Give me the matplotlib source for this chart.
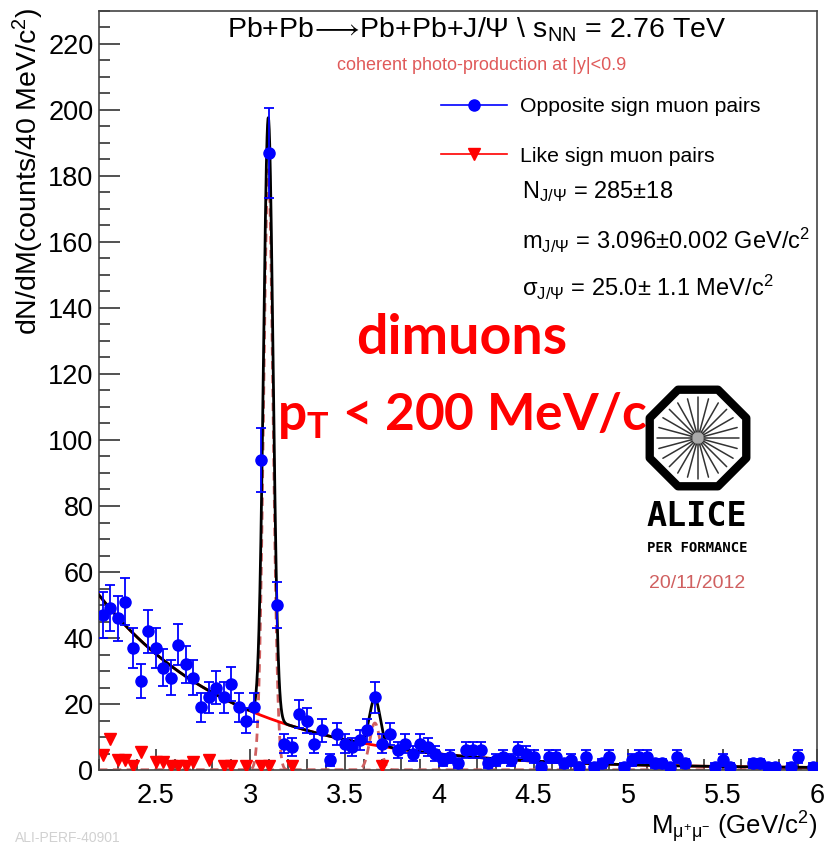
import matplotlib as mpl

mpl.use("Agg")

import matplotlib.pyplot as plt
import numpy as np
from matplotlib.lines import Line2D
from matplotlib.patches import Circle, RegularPolygon

plt.rcParams["font.family"] = ["Liberation Sans", "DejaVu Sans"]
plt.rcParams["mathtext.fontset"] = "custom"
plt.rcParams["mathtext.rm"] = "Liberation Sans"
plt.rcParams["mathtext.it"] = "Liberation Sans:italic"
plt.rcParams["mathtext.bf"] = "Lato:bold"
plt.rcParams["mathtext.fallback"] = "stixsans"

# histogram: 40 MeV bins from 2.2 to 6.0 GeV/c^2
M_LO, M_HI, BIN_W = 2.2, 6.0, 0.04

# opposite-sign counts per bin
OS_COUNTS = [
    47, 49, 46, 51, 37, 27, 42, 37, 31, 28,
    38, 32, 28, 19, 22, 25, 22, 26, 19, 15,
    19, 94, 187, 50, 8, 7, 17, 15, 8, 12,
    3, 11, 8, 7, 9, 12, 22, 8, 11, 6,
    8, 5, 8, 7, 5, 3, 4, 2, 6, 6,
    6, 2, 3, 4, 3, 6, 5, 4, 1, 4,
    4, 2, 3, 1, 4, 1, 2, 4, 0, 1,
    3, 4, 4, 2, 2, 1, 4, 2, 0, 0,
    0, 1, 3, 1, 0, 0, 2, 2, 1, 1,
    0, 1, 4, 0, 1,
]

# like-sign pairs (bin centre, counts)
LS_MASS = [2.22, 2.26, 2.30, 2.34, 2.38, 2.42, 2.50, 2.54, 2.58, 2.62,
           2.66, 2.70, 2.78, 2.86, 2.90, 2.98, 3.06, 3.10, 3.22, 3.70]
LS_COUNTS = [4.5, 9.5, 3, 3, 1.3, 5.5, 2.5, 2.5, 1.2, 1.2,
             1.2, 2.5, 3, 1.2, 1.2, 1.2, 1.2, 1.2, 1.2, 1.2]

# fit results
N_JPSI, M_JPSI, S_JPSI = 285, 3.096, 0.025
N_PSI2S, M_PSI2S, S_PSI2S = 25, 3.66, 0.028
BKG_A, BKG_B, BKG_C = 52.5, 1.38, 0.5

W, H = 825, 846


def fx(px):
    return px / W


def fy(py):
    return 1 - py / H


def gauss(m, n, mu, s):
    return n * BIN_W / (np.sqrt(2 * np.pi) * s) * np.exp(-0.5 * ((m - mu) / s) ** 2)


fig = plt.figure(figsize=(W / 100, H / 100), dpi=100)
ax = fig.add_axes([fx(99), fy(770), fx(817) - fx(99), fy(11) - fy(770)])

counts = np.asarray(OS_COUNTS, dtype=float)
centers = M_LO + BIN_W / 2 + BIN_W * np.arange(counts.size)
keep = counts > 0

m = np.linspace(M_LO, M_HI, 3000)
bkg = BKG_A * np.exp(-BKG_B * (m - M_LO)) + BKG_C
sig1 = gauss(m, N_JPSI, M_JPSI, S_JPSI)
sig2 = gauss(m, N_PSI2S, M_PSI2S, S_PSI2S)

dash_col = "#d06060"
ax.plot(m, sig1, color=dash_col, lw=2, ls=(0, (3, 2)), zorder=2)
ax.plot(m, sig2, color=dash_col, lw=2, ls=(0, (3, 2)), zorder=2)
ax.plot(m, bkg, color="red", lw=2, zorder=3)
ax.plot(m, bkg + sig1 + sig2, color="black", lw=2, zorder=4)

ax.errorbar(centers[keep], counts[keep], yerr=np.sqrt(counts[keep]), fmt="o",
            color="blue", ms=8, elinewidth=1.3, capsize=3.5, capthick=1.3, zorder=5)
ax.plot(LS_MASS, LS_COUNTS, "v", color="red", ms=8, ls="none", zorder=6)

ax.set_xlim(M_LO, M_HI)
ax.set_ylim(0, 230)
ax.set_xticks(np.arange(2.5, 6.01, 0.5))
ax.set_xticklabels(["2.5", "3", "3.5", "4", "4.5", "5", "5.5", "6"])
ax.set_xticks(np.arange(2.2, 6.01, 0.1), minor=True)
ax.set_yticks(np.arange(0, 221, 20))
ax.set_yticks(np.arange(0, 231, 5), minor=True)
ax.tick_params(which="both", direction="in", top=False, right=False, color="#222", width=1.1)
ax.tick_params(which="major", length=15, labelsize=19.5)
ax.tick_params(which="minor", length=8)
ax.tick_params(axis="x", pad=9)
ax.tick_params(axis="y", pad=4)
for sp in ax.spines.values():
    sp.set_color("#444")
    sp.set_linewidth(1.2)

fig.text(fx(28), fy(7), r"dN/dM(counts/40 MeV/c$^{2}$)", rotation=90,
         ha="center", va="top", fontsize=20.5)
fig.text(fx(817), fy(827), r"M$_{\mathrm{μ^{+}μ^{-}}}$ (GeV/c$^{2}$)",
         ha="right", va="center", fontsize=18.5)

fig.text(fx(477), fy(30),
         r"Pb+Pb$\!\longrightarrow\!$Pb+Pb+J/Ψ \ s$_{\mathrm{NN}}$ = 2.76 TeV",
         ha="center", va="center", fontsize=20.5)
fig.text(fx(482), fy(66), "coherent photo-production at |y|<0.9",
         ha="center", va="center", fontsize=13, color="#e05a5a")

handles = [
    Line2D([], [], color="blue", marker="o", ms=8, lw=1.2),
    Line2D([], [], color="red", marker="v", ms=8, lw=1.2),
]
fig.legend(handles, ["Opposite sign muon pairs", "Like sign muon pairs"],
           loc="upper left", bbox_to_anchor=(fx(441), fy(97)), frameon=False,
           fontsize=15.3, handlelength=3.1, handletextpad=0.6, labelspacing=1.45,
           borderpad=0, borderaxespad=0)

fig.text(fx(522), fy(192), r"N$_{\mathrm{J/Ψ}}$ = 285±18", ha="left", va="center", fontsize=17)
fig.text(fx(522), fy(240), r"m$_{\mathrm{J/Ψ}}$ = 3.096±0.002 GeV/c$^{2}$",
         ha="left", va="center", fontsize=17)
fig.text(fx(522), fy(287), r"σ$_{\mathrm{J/Ψ}}$ = 25.0± 1.1 MeV/c$^{2}$",
         ha="left", va="center", fontsize=17)

fig.text(fx(462), fy(338), "dimuons", ha="center", va="center", fontsize=40,
         color="#ff0000", family="Lato", fontweight="bold")
fig.text(fx(462), fy(415), r"$\mathbf{p_{T}}$ < 200 MeV/c", ha="center", va="center",
         fontsize=37, color="#ff0000", family="Lato", fontweight="bold")

# ALICE logo
lax = fig.add_axes([fx(642), fy(494), fx(112), fy(0) - fy(112)])
lax.set_xlim(-1.05, 1.05)
lax.set_ylim(-1.05, 1.05)
lax.axis("off")
lax.add_patch(RegularPolygon((0, 0), 8, radius=0.98, orientation=np.pi / 8, fill=False,
                             lw=6, edgecolor="black", joinstyle="round"))
for ang in np.linspace(0, 2 * np.pi, 24, endpoint=False):
    lax.plot([0.12 * np.cos(ang), 0.76 * np.cos(ang)], [0.12 * np.sin(ang), 0.76 * np.sin(ang)],
             color="#333", lw=1.1, solid_capstyle="round")
lax.add_patch(Circle((0, 0), 0.13, color="#aaa"))

fig.text(fx(697), fy(516), "ALICE", ha="center", va="center", fontsize=24,
         fontweight="bold", family="DejaVu Sans Mono")
fig.text(fx(697), fy(548), "PER FORMANCE", ha="center", va="center", fontsize=10,
         fontweight="bold", family="DejaVu Sans Mono")
fig.text(fx(697), fy(583), "20/11/2012", ha="center", va="center", fontsize=14,
         color="#d06060")

fig.text(fx(15), fy(838), "ALI-PERF-40901", ha="left", va="center", fontsize=10, color="0.82")

fig.savefig("out.png", dpi=100, facecolor="white")
